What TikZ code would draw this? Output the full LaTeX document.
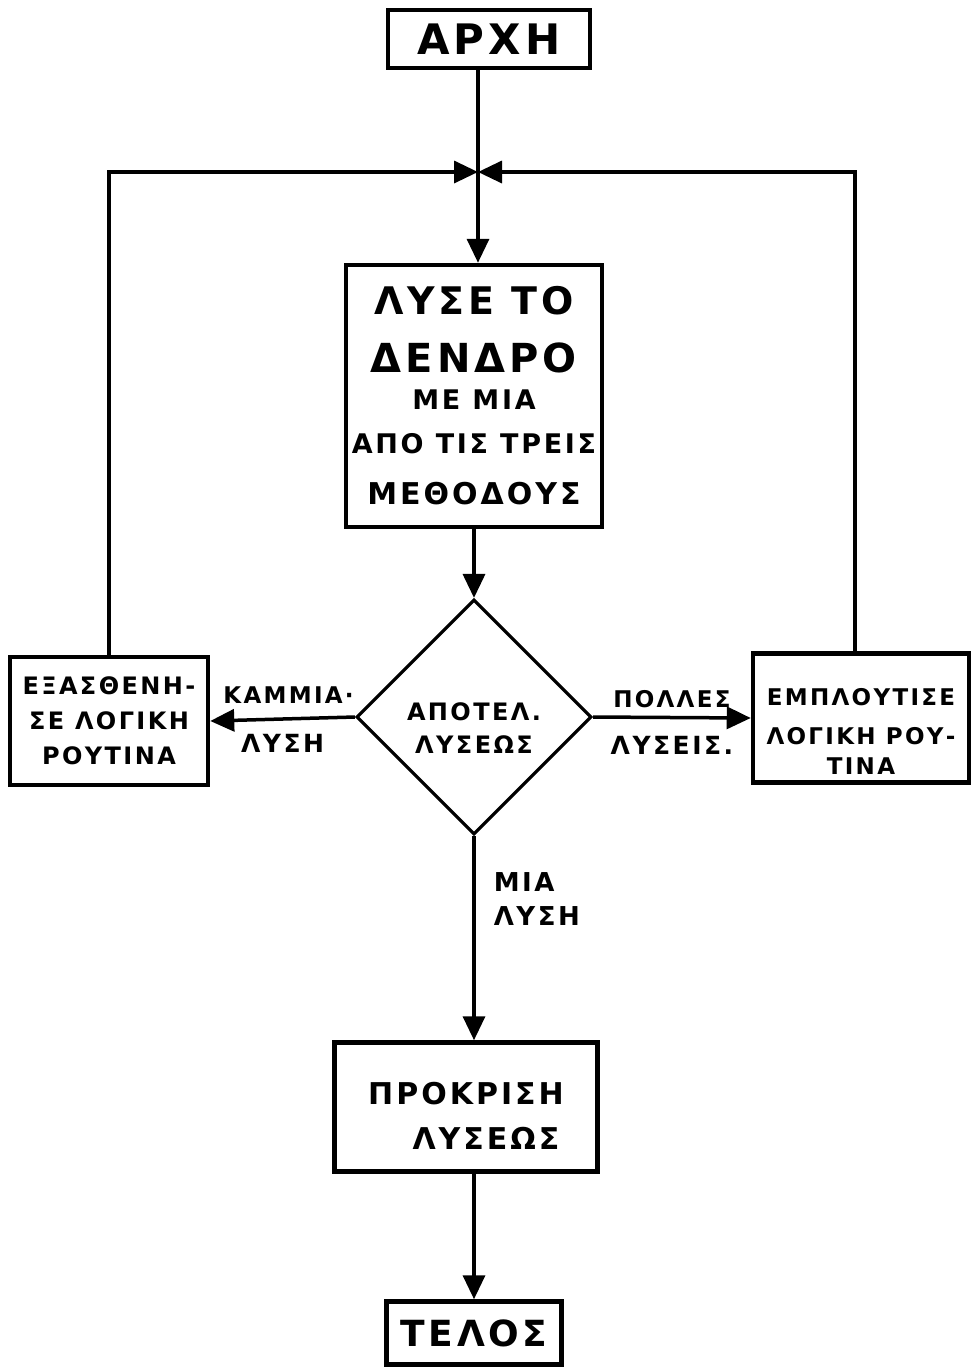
\documentclass[tikz,border=0pt]{standalone}
\usepackage{fontspec}
\setmainfont{DejaVu Sans}
\newfontfamily\hand{DejaVu Sans Bold}[LetterSpace=10]
\usetikzlibrary{arrows.meta,shapes.geometric}
\newcommand{\fz}[1]{\fontsize{#1}{#1}\selectfont}
\tikzset{
  box/.style={draw, line width=4.5pt, inner sep=0pt, align=center, font=\hand},
  ln/.style={line width=3.5pt},
  arr/.style={line width=3.5pt, -{Triangle[length=24pt,width=22pt]}},
  lbl/.style={font=\hand, inner sep=0pt, align=center},
  decision/.style={diamond, draw, line width=3.2pt, inner sep=0pt, align=center, font=\hand}
}
\begin{document}
\begin{tikzpicture}[x=1pt,y=-1pt]
\useasboundingbox (0,0) rectangle (971,1369);
\fill[white] (0,0) rectangle (971,1369);

\node[box, minimum width=202pt, minimum height=58pt] (start) at (489,39) {\fz{42}ΑΡΧΗ};
\coordinate (j) at (478,172);

\node[box, minimum width=256pt, minimum height=262pt] (main) at (474,396)
  {\fz{38}ΛΥΣΕ ΤΟ\\[26pt]\fz{40}ΔΕΝΔΡΟ\\[16pt]\fz{27}ΜΕ ΜΙΑ\\[23pt]\fz{27}ΑΠΟ ΤΙΣ ΤΡΕΙΣ\\[28pt]\fz{30}ΜΕΘΟΔΟΥΣ};

\node[decision, minimum width=235pt, minimum height=235pt] (dia) at (474,717)
  {\rule{0pt}{40pt}\fz{24}ΑΠΟΤΕΛ.\\[13pt]\fz{24}ΛΥΣΕΩΣ};

\node[box, minimum width=198pt, minimum height=128pt] (left) at (109,721)
  {\fz{24}ΕΞΑΣΘΕΝΗ-\\[16pt]\fz{24}ΣΕ ΛΟΓΙΚΗ\\[16pt]\fz{24}ΡΟΥΤΙΝΑ};

\node[box, minimum width=216pt, minimum height=129pt] (right) at (861,718)
  {\rule{0pt}{44pt}\fz{23}ΕΜΠΛΟΥΤΙΣΕ\\[20pt]\fz{23}ΛΟΓΙΚΗ ΡΟΥ-\\[12pt]\fz{23}ΤΙΝΑ};

\node[box, minimum width=263pt, minimum height=129pt] (prok) at (466,1107)
  {\rule{0pt}{40pt}\fz{30}ΠΡΟΚΡΙΣΗ\\[22pt]\fz{30}\hspace{40pt}ΛΥΣΕΩΣ};

\node[box, minimum width=175pt, minimum height=63pt] (end) at (474,1333) {\fz{36}ΤΕΛΟΣ};

% connectors
\draw[ln] (start.south -| j) -- (j);
\draw[arr] (j) -- (main.north -| j);
\draw[arr] (left.north) |- (j);
\draw[arr] ([xshift=-6pt]right.north) |- (j);
\draw[arr] (dia.north |- main.south) -- (dia.north);
\draw[arr] (dia.west) -- node[lbl, above=14pt, xshift=6pt]{\fz{23}ΚΑΜΜΙΑ·} node[lbl, below=14pt]{\fz{25}ΛΥΣΗ} (left.east);
\draw[arr] (dia.east) -- node[lbl, above=8pt]{\fz{23}ΠΟΛΛΕΣ} node[lbl, below=17pt]{\fz{25}ΛΥΣΕΙΣ.} (right.west);
\draw[arr] (dia.south) -- node[lbl, pos=0.31, right=18pt, align=left]{\fz{26}ΜΙΑ\\[14pt]\fz{26}ΛΥΣΗ} (dia.south |- prok.north);
\draw[arr] (end.north |- prok.south) -- (end.north);
\end{tikzpicture}
\end{document}
